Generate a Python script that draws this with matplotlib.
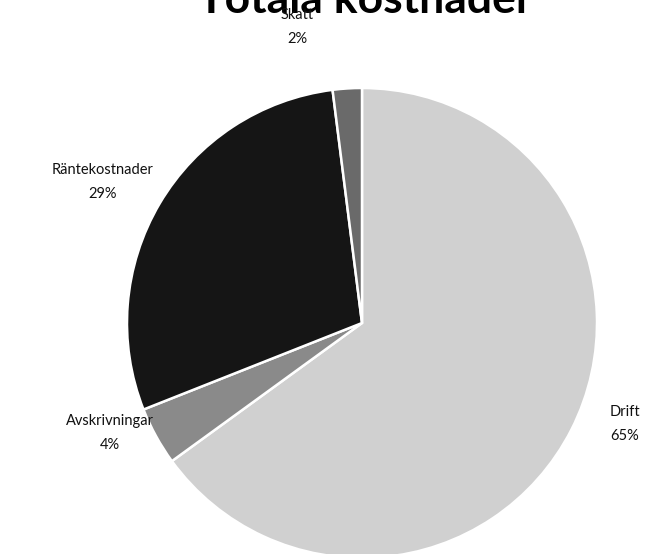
import matplotlib
matplotlib.use("Agg")
import matplotlib.pyplot as plt

categories = ["Drift", "Avskrivningar", "Räntekostnader", "Skatt"]
values = [65, 4, 29, 2]
pct_labels = ["65%", "4%", "29%", "2%"]
colors = ["#d0d0d0", "#8a8a8a", "#151515", "#6a6a6a"]

W, H = 656, 554
fig = plt.figure(figsize=(W / 100, H / 100), dpi=100)
fig.patch.set_facecolor("white")

cx, cy, r = 362, 323, 235
ax = fig.add_axes([(cx - r) / W, (H - cy - r) / H, 2 * r / W, 2 * r / H])
ax.pie(values, colors=colors, startangle=90, counterclock=False, radius=1,
       wedgeprops=dict(edgecolor="white", linewidth=1.8))
ax.set_xlim(-1, 1)
ax.set_ylim(-1, 1)
ax.set_axis_off()

fig.text(365 / W, 1 - 13 / H, "Totala kostnader", ha="center", va="baseline",
         fontsize=32, fontweight="bold", family="Lato")

label_pos = {"Drift": (625, 412), "Avskrivningar": (110, 421),
             "Räntekostnader": (103, 170), "Skatt": (297, 15)}
for cat, pct in zip(categories, pct_labels):
    x, y = label_pos[cat]
    fig.text(x / W, 1 - y / H, cat, ha="center", va="center", fontsize=10.5,
             family="Lato", color="#111111")
    fig.text(x / W, 1 - (y + 24) / H, pct, ha="center", va="center", fontsize=10.5,
             family="Lato", color="#111111")

fig.savefig("out.png", dpi=100, facecolor="white")
